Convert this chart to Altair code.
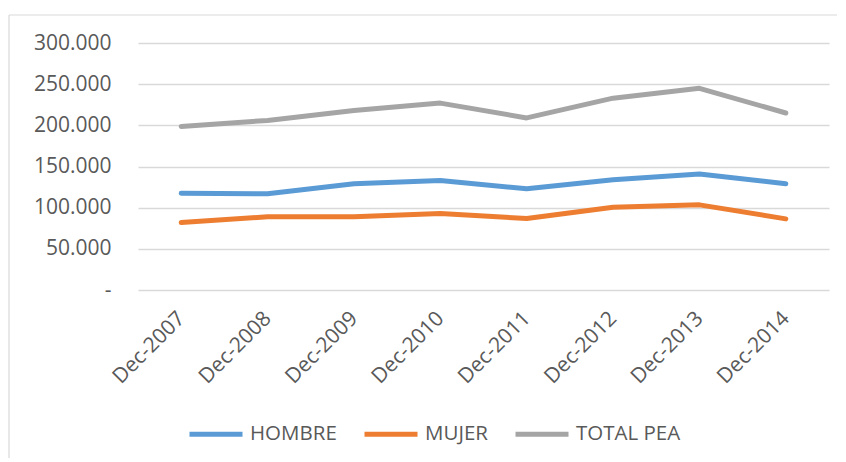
import altair as alt
import pandas as pd

periods = ["Dec-2007", "Dec-2008", "Dec-2009", "Dec-2010",
           "Dec-2011", "Dec-2012", "Dec-2013", "Dec-2014"]
hombre = [117600, 116800, 129000, 133000, 123000, 134000, 141000, 129000]
mujer = [81900, 89000, 89000, 93000, 86800, 100600, 103400, 86400]
total_pea = [198700, 206000, 218000, 227000, 209000, 233000, 245000, 215000]
series_names = ["HOMBRE", "MUJER", "TOTAL PEA"]
y_ticks = [0, 50000, 100000, 150000, 200000, 250000, 300000]

colors = ["#5B9BD5", "#ED7D31", "#A5A5A5"]
text_color = "#595959"
font = "Open Sans"

rows = []
for name, vals in zip(series_names, [hombre, mujer, total_pea]):
    for p, v in zip(periods, vals):
        rows.append({"period": p, "series": name, "value": v})
df = pd.DataFrame(rows)

lines = alt.Chart(df).mark_line(
    strokeWidth=5, strokeCap="round", strokeJoin="round"
).encode(
    x=alt.X("period:N", sort=periods, scale=alt.Scale(padding=0.5),
            axis=alt.Axis(title=None, labelAngle=-45, labelAlign="right",
                          labelBaseline="middle", labelPadding=25,
                          ticks=False, domain=False, grid=False,
                          labelFont=font, labelFontSize=21,
                          labelColor=text_color)),
    y=alt.Y("value:Q", scale=alt.Scale(domain=[0, 300000]),
            axis=alt.Axis(title=None, values=y_ticks,
                          labelExpr="datum.value == 0 ? '-\u00a0\u00a0' : replace(format(datum.value, ','), regexp(',', 'g'), '.')",
                          grid=True, gridColor="#d9d9d9", gridWidth=1.3,
                          ticks=False, domain=False, labelPadding=27,
                          labelFont=font, labelFontSize=21,
                          labelColor=text_color)),
    color=alt.Color("series:N",
                    scale=alt.Scale(domain=series_names, range=colors),
                    legend=alt.Legend(orient="none", legendX=49, legendY=362,
                                      direction="horizontal", title=None,
                                      symbolType="stroke", symbolSize=2809,
                                      symbolStrokeWidth=5, labelFont=font,
                                      labelFontSize=20.5, labelColor=text_color,
                                      columnPadding=17, labelOffset=5,
                                      labelLimit=300)),
)

one = alt.Data(values=[{}])
top_border = alt.Chart(one).mark_rule(color="#d9d9d9", strokeWidth=1.2).encode(
    x=alt.value(-129), x2=alt.value(707), y=alt.value(-28))
left_border = alt.Chart(one).mark_rule(color="#d9d9d9", strokeWidth=1.2).encode(
    x=alt.value(-129), y=alt.value(-28), y2=alt.value(430))

chart = alt.layer(top_border, left_border, lines).properties(
    width=691, height=247,
    autosize=alt.AutoSizeParams(type="none"),
    padding={"left": 130, "top": 35, "right": 8, "bottom": 168},
    background="white",
).configure_view(stroke=None)

chart.save("out.html", embed_options={"renderer": "svg", "actions": False})
